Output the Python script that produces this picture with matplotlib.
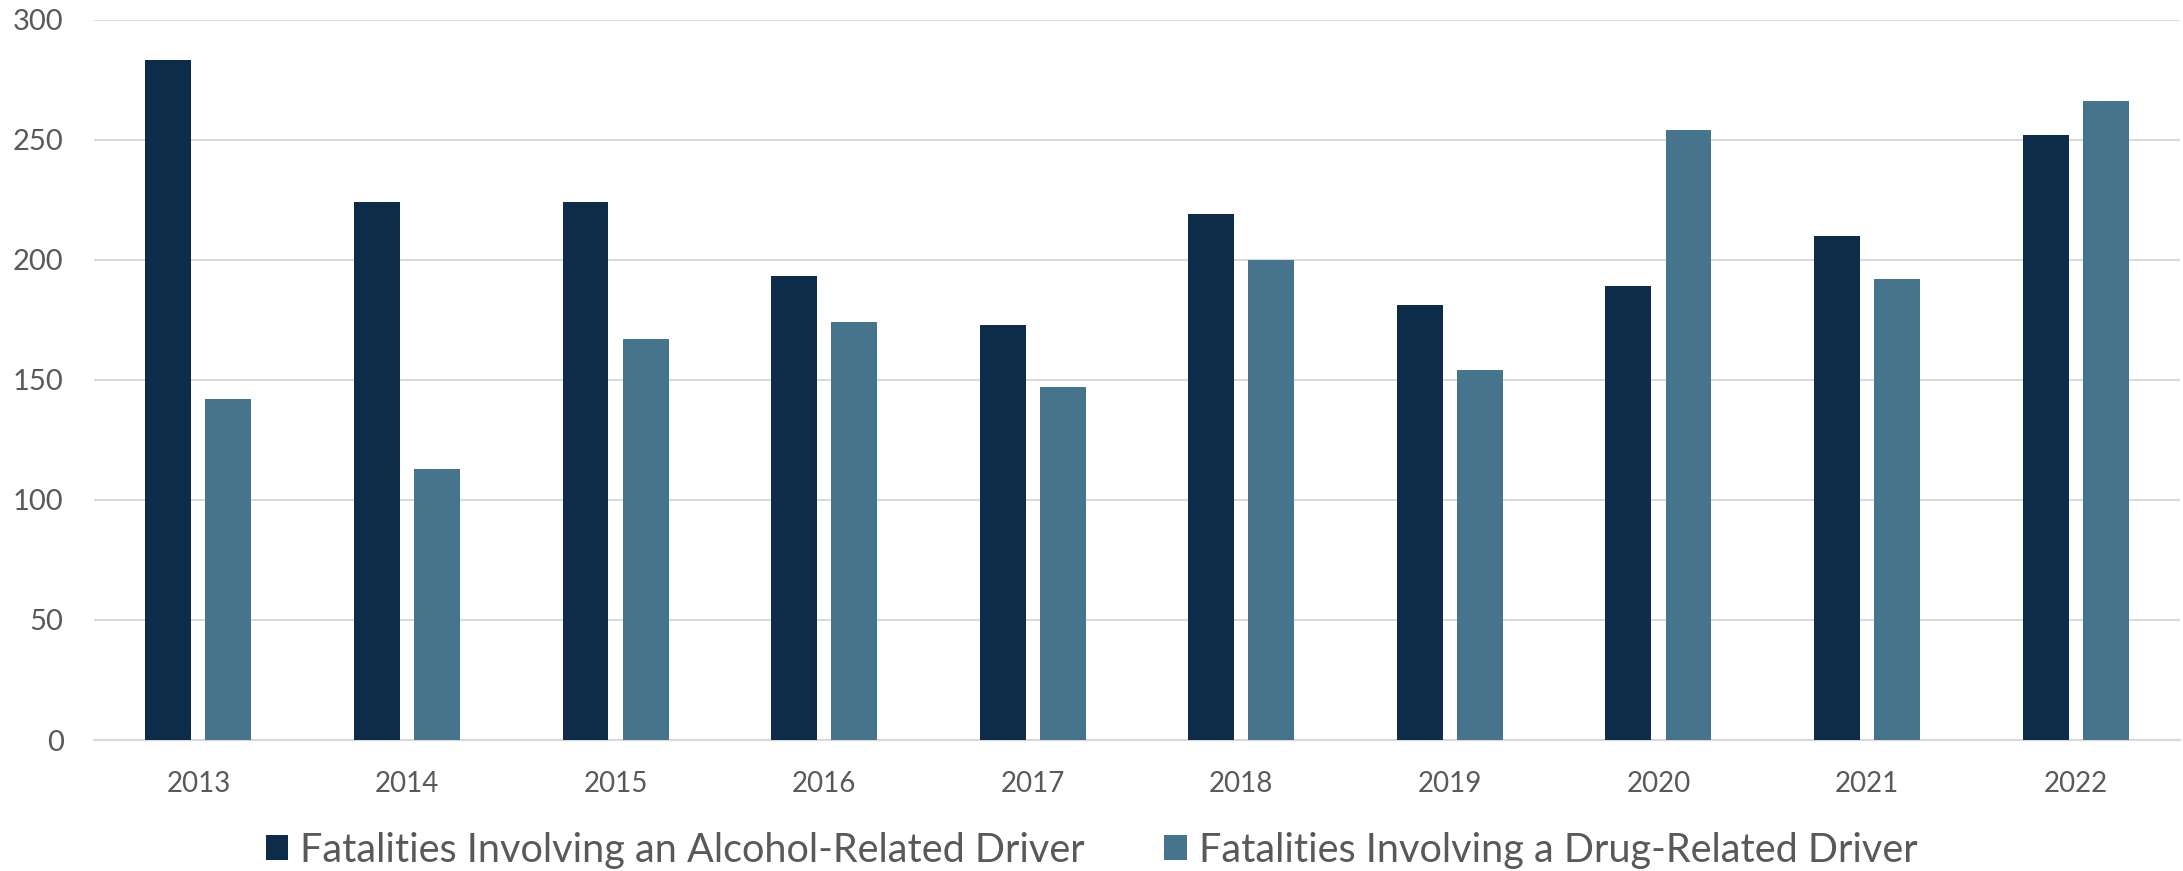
import matplotlib.pyplot as plt
import numpy as np

years = ["2013", "2014", "2015", "2016", "2017", "2018", "2019", "2020", "2021", "2022"]
alcohol = [283, 224, 224, 193, 173, 219, 181, 189, 210, 252]
drug = [142, 113, 167, 174, 147, 200, 154, 254, 192, 266]
labels = ["Fatalities Involving an Alcohol-Related Driver",
          "Fatalities Involving a Drug-Related Driver"]

plt.rcParams['font.family'] = ['Lato', 'DejaVu Sans']
text_color = "#595959"
navy = "#0C2C4A"
teal = "#45748C"

fig = plt.figure(figsize=(21.83, 8.71), dpi=100)
ax = fig.add_axes([0.0431, 0.1504, 0.9555, 0.8272])

x = np.arange(len(years))
w = 0.22
ax.bar(x - 0.144, alcohol, w, color=navy, label=labels[0], zorder=3)
ax.bar(x + 0.144, drug, w, color=teal, label=labels[1], zorder=3)

ax.set_xlim(-0.5, len(years) - 0.5)
ax.set_ylim(0, 300)
ax.set_yticks(range(0, 301, 50))
ax.set_xticks(x)
ax.set_xticklabels(years)
ax.grid(axis="y", color="#D9D9D9", linewidth=1.4, zorder=0)
for s in ["top", "right", "left"]:
    ax.spines[s].set_visible(False)
ax.spines["bottom"].set_color("#D9D9D9")
ax.spines["bottom"].set_linewidth(1.6)
ax.tick_params(axis="both", length=0, colors=text_color)
ax.tick_params(axis="x", labelsize=20, pad=22)
ax.tick_params(axis="y", labelsize=21, pad=22)

fig.legend(loc="center", bbox_to_anchor=(0.5, 0.024), ncol=2, frameon=False,
           fontsize=28.5, labelcolor=text_color, handlelength=0.57,
           handleheight=0.57, handletextpad=0.3, columnspacing=2.0)

fig.savefig("out.png", dpi=100)
